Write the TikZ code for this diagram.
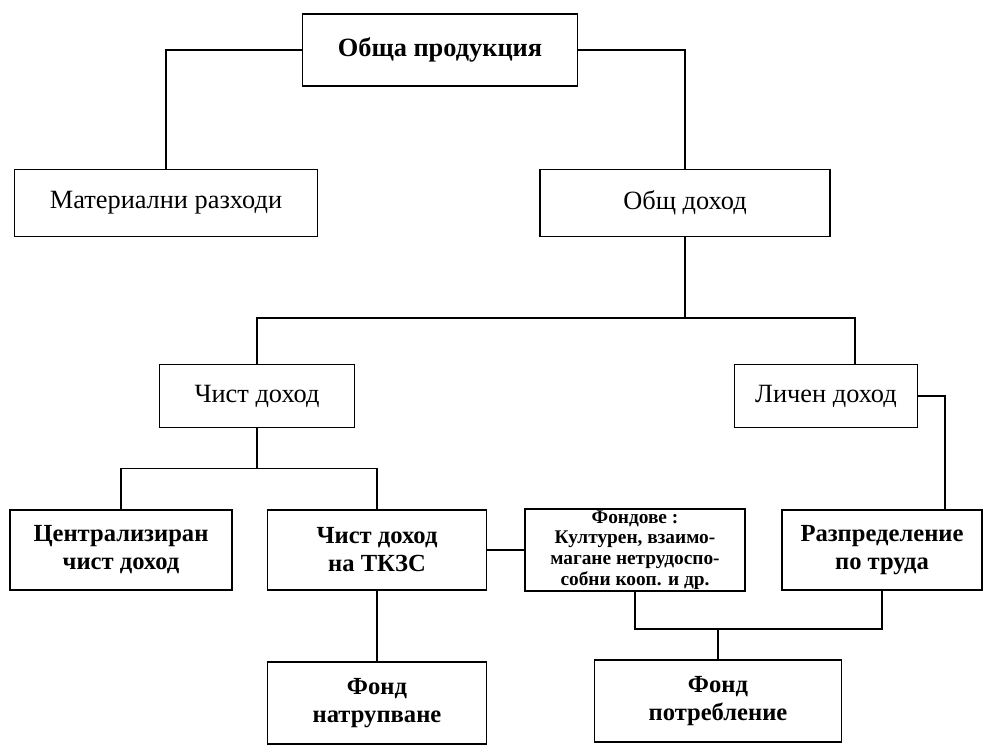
\documentclass[tikz,border=0pt]{standalone}
\usepackage{fontspec}
\setmainfont{Liberation Serif}
\usetikzlibrary{positioning}

\tikzset{
  kutia/.style={draw, line width=1.1pt, align=center, inner sep=2pt},
  gorna/.style={kutia, font=\fontsize{15}{17}\selectfont},
  dolna/.style={kutia, font=\fontsize{14}{16}\selectfont\bfseries},
  vryzka/.style={line width=0.9pt},
}

\begin{document}
\begin{tikzpicture}[x=0.02cm,y=-0.02cm]
    \useasboundingbox (0,0) rectangle (984,746);

    % Обща продукция и нейното разделяне
    \node[gorna, font=\fontsize{15}{17}\selectfont\bfseries,
          minimum width=5.5cm, minimum height=1.44cm] (op) at (440,50) {Обща продукция};
    \node[gorna, minimum width=6.06cm, minimum height=1.34cm] (mr) at (166,203) {Материални разходи};
    \node[gorna, minimum width=5.8cm, minimum height=1.34cm] (od) at (685,203) {Общ доход};

    \draw[vryzka] (op.west) -| (mr.north);
    \draw[vryzka] (op.east) -| (od.north);

    % Общ доход
    \node[gorna, minimum width=3.9cm, minimum height=1.26cm] (cd) at (257,396) {Чист доход};
    \node[gorna, minimum width=3.66cm, minimum height=1.26cm] (ld) at (826,396) {Личен доход};

    \coordinate (s1) at (685,318);
    \draw[vryzka] (od.south) -- (s1);
    \draw[vryzka] (cd.north) |- (s1);
    \draw[vryzka] ([xshift=0.58cm]ld.north) |- (s1);

    % Долен ред
    \node[dolna, minimum width=4.44cm, minimum height=1.6cm] (cz) at (121,550) {Централизиран\\чист доход};
    \node[dolna, minimum width=4.38cm, minimum height=1.6cm] (tk) at (377,550) {Чист доход\\на ТКЗС};
    \node[dolna, minimum width=4.4cm, minimum height=1.6cm, inner sep=1pt,
          font=\fontsize{11}{11.8}\selectfont\bfseries] (fo) at (635,550)
          {Фондове :\\Културен, взаимо-\\магане нетрудоспо-\\собни кооп. и др.};
    \node[dolna, minimum width=4cm, minimum height=1.6cm] (rt) at (882,550) {Разпределение\\по труда};

    \draw[vryzka] (cd.south) -- ++(0,40) coordinate (s2);
    \draw[vryzka] (cz.north) |- (s2) -| (tk.north);
    \draw[vryzka] (tk.east) -- (fo.west);
    \draw[vryzka] (ld.east) -| ([xshift=1.26cm]rt.north);

    % Фондове
    \node[dolna, minimum width=4.38cm, minimum height=1.64cm] (fn) at (377,703) {Фонд\\натрупване};
    \node[dolna, minimum width=4.94cm, minimum height=1.64cm] (fp) at (718,701) {Фонд\\потребление};

    \draw[vryzka] (tk.south) -- (fn.north);
    \draw[vryzka] (fp.north) -- ++(0,-30) coordinate (s3);
    \draw[vryzka] (fo.south) |- (s3) -| (rt.south);

\end{tikzpicture}
\end{document}
